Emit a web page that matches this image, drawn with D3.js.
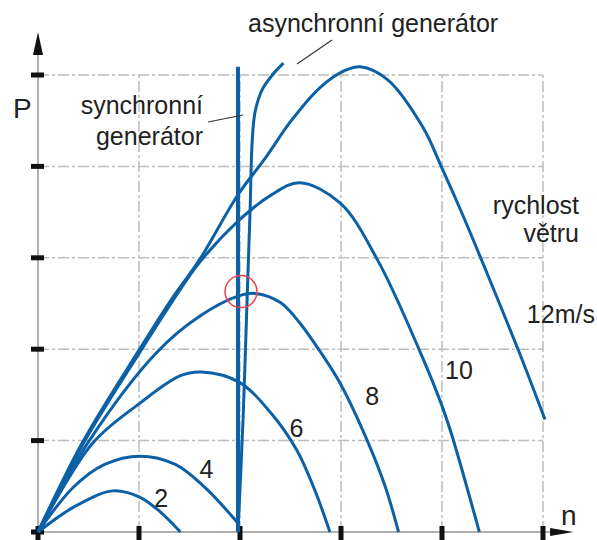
<!DOCTYPE html>
<html>
<head>
<meta charset="utf-8">
<script src="https://cdn.jsdelivr.net/npm/d3@7"></script>
<style>
  body { margin: 0; background: #fff; }
  text { font-family: "Liberation Sans", Arial, sans-serif; fill: #222; }
</style>
</head>
<body>
<div id="chart"></div>
<script>
// curves: [n, P] in grid units
const speedNames = ["2", "4", "6", "8", "10", "12m/s"];
const curve2 = [[0, 0], [0.35, 0.27], [0.74, 0.45], [1.01, 0.38], [1.21, 0.22], [1.41, 0]];
const curve4 = [[0, 0], [0.35, 0.49], [0.66, 0.74], [1.01, 0.83], [1.36, 0.74], [1.65, 0.49], [1.97, 0.11]];
const curve6 = [[0, 0], [0.54, 0.97], [1.01, 1.41], [1.41, 1.71], [1.62, 1.75], [1.99, 1.64], [2.30, 1.31], [2.56, 0.90], [2.74, 0.46], [2.89, 0]];
const curve8 = [[0, 0], [0.49, 0.97], [1.18, 1.97], [1.60, 2.36], [1.98, 2.58], [2.15, 2.61], [2.40, 2.51], [2.59, 2.29], [2.79, 1.98], [2.99, 1.63], [3.26, 1.00], [3.44, 0.49], [3.57, 0]];
const curve10 = [[0, 0], [0.45, 0.97], [1.01, 1.97], [1.34, 2.54], [1.60, 2.95], [1.98, 3.40], [2.30, 3.68], [2.59, 3.82], [2.99, 3.60], [3.36, 2.98], [3.78, 1.98], [3.99, 1.41], [4.10, 1.05], [4.37, 0]];
const curve12 = [[0, 0], [0.44, 0.98], [1.00, 1.99], [1.33, 2.56], [1.60, 2.98], [1.98, 3.69], [2.25, 4.09], [2.50, 4.49], [2.79, 4.86], [3.04, 5.05], [3.19, 5.09], [3.46, 4.95], [3.81, 4.43], [4.00, 3.98], [4.22, 3.43], [4.45, 2.82], [4.77, 1.95], [5.02, 1.23]];
const asyncCurve = [[1.98, 0], [2.03, 1.23], [2.07, 2.54], [2.10, 3.52], [2.12, 4.26], [2.15, 4.60], [2.22, 4.84], [2.32, 5.00], [2.43, 5.13]];
const syncN = 1.98;
const syncTop = 5.09;
const nTicks = [0, 1, 2, 3, 4, 5];
const pTicks = [0, 1, 2, 3, 4, 5];
// label anchor points [n, P]
const speedLabelPos = [[1.15, 0.27], [1.60, 0.59], [2.49, 1.04], [3.24, 1.39], [4.03, 1.67], [4.84, 2.29]];
const markPoint = [2.01, 2.63];

const width = 597;
const height = 540;
const blue = "#0b60a6";

const svg = d3.select("#chart")
  .append("svg")
  .attr("width", width)
  .attr("height", height);

const x = d3.scaleLinear().domain([0, 5]).range([38, 543]);
const y = d3.scaleLinear().domain([0, 5]).range([532, 75]);

// dash-dot grid
const grid = svg.append("g")
  .attr("stroke", "#bdbdbd")
  .attr("stroke-width", 1.5)
  .attr("stroke-dasharray", "11,3,3,3");

grid.selectAll(".vgrid")
  .data(nTicks.slice(1))
  .enter()
  .append("line")
  .attr("x1", d => x(d))
  .attr("x2", d => x(d))
  .attr("y1", y(0))
  .attr("y2", y(5));

grid.selectAll(".hgrid")
  .data(pTicks.slice(1))
  .enter()
  .append("line")
  .attr("x1", x(0))
  .attr("x2", x(5))
  .attr("y1", d => y(d))
  .attr("y2", d => y(d));

// axes (grey lines, black arrows)
svg.append("line")
  .attr("x1", x(0)).attr("x2", x(5.1))
  .attr("y1", y(0)).attr("y2", y(0))
  .attr("stroke", "#b0b0b0").attr("stroke-width", 2);

svg.append("line")
  .attr("x1", x(0)).attr("x2", x(0))
  .attr("y1", y(0)).attr("y2", y(5.3))
  .attr("stroke", "#b0b0b0").attr("stroke-width", 2);

svg.append("path")
  .attr("d", `M${x(0)},${y(5.47)} L${x(0) - 5},${y(5.22)} L${x(0) + 5},${y(5.22)} Z`)
  .attr("fill", "#111");

svg.append("path")
  .attr("d", `M${x(5.3)},${y(0)} L${x(5.07)},${y(0) - 4} L${x(5.07)},${y(0) + 4} Z`)
  .attr("fill", "#111");

svg.selectAll(".ptick")
  .data(pTicks)
  .enter()
  .append("rect")
  .attr("x", x(0) - 7)
  .attr("y", d => y(d) - 2.5)
  .attr("width", 13)
  .attr("height", 5)
  .attr("fill", "#111");

svg.selectAll(".ntick")
  .data(nTicks)
  .enter()
  .append("rect")
  .attr("x", d => x(d) - 2.5)
  .attr("y", y(0) - 6)
  .attr("width", 5)
  .attr("height", 14)
  .attr("fill", "#111");

// power curves
const line = d3.line()
  .x(d => x(d[0]))
  .y(d => y(d[1]))
  .curve(d3.curveCatmullRom.alpha(0.5));

const curves = [curve2, curve4, curve6, curve8, curve10, curve12];

svg.selectAll(".power")
  .data(curves)
  .enter()
  .append("path")
  .attr("class", "power")
  .attr("fill", "none")
  .attr("stroke", blue)
  .attr("stroke-width", 3)
  .attr("d", line);

// synchronous generator: vertical line
svg.append("line")
  .attr("x1", x(syncN)).attr("x2", x(syncN))
  .attr("y1", y(0)).attr("y2", y(syncTop))
  .attr("stroke", blue)
  .attr("stroke-width", 4);

// asynchronous generator
svg.append("path")
  .datum(asyncCurve)
  .attr("fill", "none")
  .attr("stroke", blue)
  .attr("stroke-width", 3)
  .attr("d", line);

// red marker circle
svg.append("circle")
  .attr("cx", x(markPoint[0]))
  .attr("cy", y(markPoint[1]))
  .attr("r", 16)
  .attr("fill", "none")
  .attr("stroke", "#f0404a")
  .attr("stroke-width", 1.5);

// speed labels
svg.selectAll(".speed")
  .data(speedNames)
  .enter()
  .append("text")
  .attr("x", (d, i) => x(speedLabelPos[i][0]))
  .attr("y", (d, i) => y(speedLabelPos[i][1]))
  .style("font-size", "25px")
  .text(d => d);

// axis letters
svg.append("text")
  .attr("x", 13).attr("y", 118)
  .style("font-size", "28px")
  .text("P");

svg.append("text")
  .attr("x", 561).attr("y", 525)
  .style("font-size", "28px")
  .text("n");

// annotations
svg.append("text")
  .attr("x", 248).attr("y", 32)
  .style("font-size", "25px")
  .text("asynchronní generátor");

svg.append("text")
  .attr("x", 203).attr("y", 114)
  .attr("text-anchor", "end")
  .style("font-size", "25px")
  .text("synchronní");

svg.append("text")
  .attr("x", 203).attr("y", 145)
  .attr("text-anchor", "end")
  .style("font-size", "25px")
  .text("generátor");

svg.append("text")
  .attr("x", 579).attr("y", 214)
  .attr("text-anchor", "end")
  .style("font-size", "25px")
  .text("rychlost");

svg.append("text")
  .attr("x", 579).attr("y", 242)
  .attr("text-anchor", "end")
  .style("font-size", "25px")
  .text("větru");

// leader lines
svg.append("line")
  .attr("x1", 208).attr("y1", 122)
  .attr("x2", 243).attr("y2", 115)
  .attr("stroke", "#333").attr("stroke-width", 1.2);

svg.append("line")
  .attr("x1", 297).attr("y1", 64)
  .attr("x2", 332).attr("y2", 40)
  .attr("stroke", "#333").attr("stroke-width", 1.2);
</script>
</body>
</html>
